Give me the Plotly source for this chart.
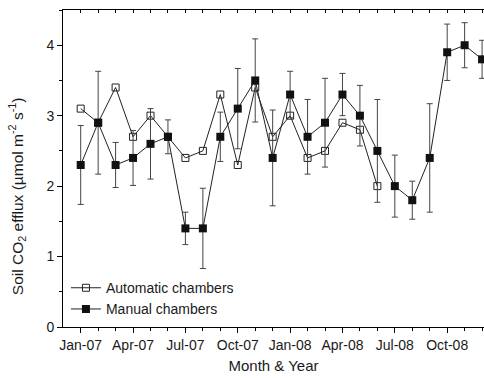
import plotly.graph_objects as go

months = ["Jan-07", "Feb-07", "Mar-07", "Apr-07", "May-07", "Jun-07", "Jul-07", "Aug-07",
          "Sep-07", "Oct-07", "Nov-07", "Dec-07", "Jan-08", "Feb-08", "Mar-08", "Apr-08",
          "May-08", "Jun-08", "Jul-08", "Aug-08", "Sep-08", "Oct-08", "Nov-08", "Dec-08"]

automatic = [3.1, 2.9, 3.4, 2.7, 3.0, 2.7, 2.4, 2.5, 3.3, 2.3, 3.4, 2.7,
             3.0, 2.4, 2.5, 2.9, 2.8, 2.0, None, None, None, None, None, None]

manual = [2.3, 2.9, 2.3, 2.4, 2.6, 2.7, 1.4, 1.4, 2.7, 3.1, 3.5, 2.4,
          3.3, 2.7, 2.9, 3.3, 3.0, 2.5, 2.0, 1.8, 2.4, 3.9, 4.0, 3.8]

manual_err = [0.56, 0.73, 0.32, 0.39, 0.50, 0.24, 0.23, 0.57, 0.35, 0.57, 0.59, 0.68,
              0.33, 0.53, 0.63, 0.30, 0.43, 0.73, 0.44, 0.27, 0.77, 0.40, 0.32, 0.27]

tick_labels = ["Jan-07", "Apr-07", "Jul-07", "Oct-07", "Jan-08", "Apr-08", "Jul-08", "Oct-08"]

idx = list(range(len(months)))
tick_pos = [months.index(t) for t in tick_labels]

FONT = "Arial, Liberation Sans, sans-serif"
TXT = "#1a1a1a"

fig = go.Figure()

fig.add_trace(go.Scatter(
    x=idx, y=automatic, name="Automatic chambers", mode="lines+markers",
    line=dict(color="#222222", width=1),
    marker=dict(symbol="square-open", size=7, color="#222222", line=dict(width=1)),
    connectgaps=False,
))

fig.add_trace(go.Scatter(
    x=idx, y=manual, name="Manual chambers", mode="lines+markers",
    line=dict(color="#222222", width=1),
    marker=dict(symbol="square", size=8, color="#111111"),
    error_y=dict(type="data", array=manual_err, visible=True,
                 color="#444444", thickness=1, width=3),
))

# invisible trace to activate top axis
fig.add_trace(go.Scatter(x=[None], y=[None], xaxis="x2", showlegend=False,
                         hoverinfo="skip"))

xr = [-1.014, 23.11]

fig.update_layout(
    width=484, height=378,
    margin=dict(l=63, r=0, t=10, b=51),
    paper_bgcolor="white", plot_bgcolor="white",
    font=dict(family=FONT, size=14, color=TXT),
    showlegend=True,
    legend=dict(x=0.007, y=0.173, xanchor="left", yanchor="top",
                bgcolor="rgba(0,0,0,0)", font=dict(size=14, family=FONT, color=TXT),
                itemwidth=30, tracegroupgap=0),
    xaxis=dict(
        range=xr, showgrid=False, zeroline=False,
        showline=True, linecolor="black", linewidth=1,
        ticks="outside", ticklen=5, tickwidth=1, tickcolor="black",
        tickvals=tick_pos, ticktext=tick_labels,
        tickfont=dict(size=14, family=FONT, color=TXT),
        minor=dict(ticks="outside", ticklen=3, tickwidth=1, tickcolor="black",
                   tickvals=idx),
        title=dict(text="Month & Year", font=dict(size=15, family=FONT, color=TXT), standoff=8),
    ),
    xaxis2=dict(
        range=xr, overlaying="x", side="top", anchor="y",
        showgrid=False, zeroline=False,
        showline=True, linecolor="black", linewidth=1,
        ticks="inside", ticklen=3, tickwidth=1, tickcolor="black",
        tickvals=idx, showticklabels=False,
    ),
    yaxis=dict(
        range=[0, 4.5], showgrid=False, zeroline=False,
        showline=True, linecolor="black", linewidth=1,
        ticks="outside", ticklen=5, tickwidth=1, tickcolor="black",
        tickvals=[0, 1, 2, 3, 4],
        tickfont=dict(size=14, family=FONT, color=TXT),
        minor=dict(ticks="outside", ticklen=3, tickwidth=1, tickcolor="black",
                   tickvals=[0.5, 1.5, 2.5, 3.5, 4.5]),
    ),
    annotations=[dict(
        text="Soil CO<sub>2</sub> efflux (µmol m<sup>-2</sup> s<sup>-1</sup>)",
        xref="paper", yref="paper", x=-0.109, y=0.413,
        xanchor="center", yanchor="middle", textangle=-90, showarrow=False,
        font=dict(size=15.5, family=FONT, color=TXT),
    )],
)

fig.write_html("out.html")
